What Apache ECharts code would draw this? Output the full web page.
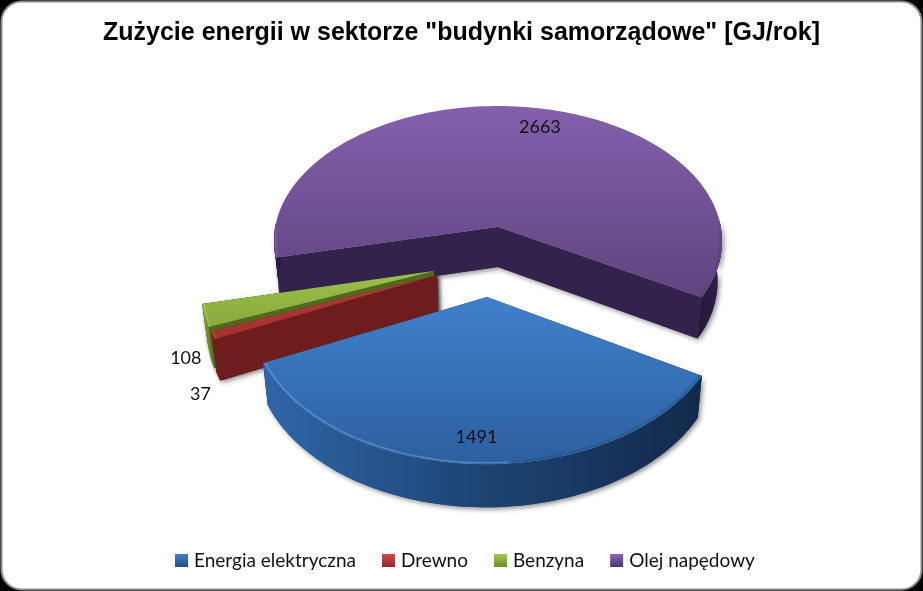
<!DOCTYPE html>
<html>
<head>
<meta charset="utf-8">
<style>html,body{margin:0;padding:0;background:#000}#c{width:923px;height:591px}</style>
<script src="https://cdn.jsdelivr.net/npm/echarts@6/dist/echarts.min.js"></script>
</head>
<body>
<div id="c"></div>
<script>
const titleText = 'Zużycie energii w sektorze "budynki samorządowe" [GJ/rok]';
const categories = ['Energia elektryczna', 'Drewno', 'Benzyna', 'Olej napędowy'];
const values = [1491, 37, 108, 2663];

// pie projection settings
const START_ANGLE = 30, CX = 498, CY = 227, RX = 222.8, RY = 133.7, K = 0.105, DEPTH = 40, FOOT = 0.98;
const explode = [[-0.047, 0.496], [-0.264, 0.346], [-0.278, 0.318], [0, 0]];
const labelPlace = [[0.85, 0], [1.187, -15.8], [1.142, -12], [0.845, 5.5]];
const looks = [
  {top: ['#4080cc', '#2c609f'], rimL: '#7fb0e6', rimR: '#1f4a80', wall: ['#2f66a8', '#1d4473', '#12294a'], face: '#1d4473', legend: ['#3f7fc9', '#254f85']},
  {top: ['#b03a38', '#a33130'], rimL: '#c65a58', rimR: '#8a2826', wall: ['#7a2220', '#6e1d1d', '#6e1d1d'], face: '#6e1d1d', legend: ['#d04a47', '#8f2a28']},
  {top: ['#9cc04a', '#8aaa3c'], rimL: '#b3d268', rimR: '#7a9a34', wall: ['#8aa83c', '#6f8c2e', '#5a7424'], face: '#50691f', legend: ['#a5c853', '#6f8c2e']},
  {top: ['#8560ad', '#5f4480'], rimL: '#8f6fb5', rimR: '#54396f', wall: ['#33234c', '#2a1c41', '#241838'], face: '#33234c', legend: ['#8a66b3', '#4b3468']}
];
const total = values.reduce((a, b) => a + b, 0);

function spans() {
  let a = START_ANGLE;
  return values.map(v => { const s = a; a += v / total * 360; return [s, a]; });
}
function proj(u, v, drop) {
  const d = 1 - K * v, x = CX + RX * u / d, y = CY + RY * v / d;
  return drop ? [CX + (x - CX) * FOOT, y + DEPTH * (1 + 0.05 * v)] : [x, y];
}
function pt(i, r, deg, drop) {
  const t = deg * Math.PI / 180, e = explode[i];
  return proj(e[0] + r * Math.cos(t), e[1] + r * Math.sin(t), drop);
}
function arcAngles(a, b) {
  const out = [], n = Math.max(2, Math.ceil((b - a) / 1.5));
  for (let j = 0; j <= n; j++) out.push(a + (b - a) * j / n);
  return out;
}
const lin = (x, y, x2, y2, stops) => ({type: 'linear', x, y, x2, y2,
  colorStops: stops.map((c, k) => ({offset: k / (stops.length - 1), color: c}))});
const shadow = {shadowBlur: 5, shadowColor: 'rgba(0,0,0,0.45)', shadowOffsetX: 2, shadowOffsetY: 2};
const rad = d => d * Math.PI / 180;

function renderSlice(i, value) {
  const [a, b] = spans()[i], look = looks[i], kids = [];
  const angles = arcAngles(a, b);
  const sides = [];   // {points, fill, wall}
  [a, b].forEach(deg => {
    sides.push({points: [pt(i, 0, deg, false), pt(i, 1, deg, false), pt(i, 1, deg, true), pt(i, 0, deg, true)], fill: look.face, wall: false});
  });
  let run = [];
  const flush = () => {
    if (run.length > 1) {
      const pts = run.map(d => pt(i, 1, d, false)).concat(run.slice().reverse().map(d => pt(i, 1, d, true)));
      const right = Math.cos(rad(run[0])) > 0 && Math.cos(rad(run[run.length - 1])) > 0;
      sides.push({points: pts, fill: lin(0, 0, 1, 0, right ? look.wall.slice().reverse() : look.wall), wall: true});
    }
    run = [];
  };
  angles.forEach(d => { if (Math.sin(rad(d)) > -0.06) run.push(d); else flush(); });
  flush();
  // first pass casts the soft shadow, second pass paints the clean sides over it
  sides.forEach(s => {
    if (i !== 0 || s.wall) kids.push({type: 'polygon', z2: 1, shape: {points: s.points}, style: Object.assign({fill: s.fill}, shadow)});
  });
  sides.forEach(s => kids.push({type: 'polygon', z2: s.wall ? 3 : 2, shape: {points: s.points}, style: {fill: s.fill}}));
  // top face
  const topPts = [pt(i, 0, a, false)].concat(angles.map(d => pt(i, 1, d, false)));
  kids.push({type: 'polygon', z2: 4, shape: {points: topPts}, style: {fill: lin(0, 0, 0, 1, look.top)}});
  // bevel along the front outer edge: lit on the left, shaded on the right
  const front = angles.filter(d => Math.sin(rad(d)) > 0);
  const rimLeft = front.filter(d => Math.cos(rad(d)) <= 0.1), rimRight = front.filter(d => Math.cos(rad(d)) > 0.1);
  [[rimLeft, look.rimL, 0.45], [rimRight, look.rimR, 0.5]].forEach(([set, color, op]) => {
    if (set.length > 1) kids.push({type: 'polyline', z2: 5, shape: {points: set.map(d => pt(i, 0.992, d, false))},
      style: {fill: null, stroke: color, lineWidth: 1.6, opacity: op}});
  });
  // value label
  const place = labelPlace[i], p = pt(i, place[0], (a + b) / 2 + place[1], false);
  kids.push({type: 'text', z2: 9, style: {text: String(value), x: p[0], y: p[1] + 1, align: 'center',
    verticalAlign: 'middle', font: '18px Lato, "Open Sans", sans-serif', fill: '#111'}});
  return {type: 'group', children: kids};
}

const drawOrder = [3, 2, 1, 0];
const chart = echarts.init(document.getElementById('c'), null, {renderer: 'canvas'});
chart.setOption({
  animation: false,
  backgroundColor: '#000',
  graphic: {elements: [{type: 'rect', z: -10, silent: true,
    shape: {x: 1.5, y: 1.5, width: 920, height: 588, r: 20},
    style: {fill: '#fff', stroke: '#8a8a8a', lineWidth: 2}}]},
  title: {text: titleText, left: 'center', top: 16,
    textStyle: {fontFamily: '"Liberation Sans", Arial, sans-serif', fontWeight: 'bold', fontSize: 25, color: '#000'}},
  legend: {left: 170, top: 546, itemWidth: 13, itemHeight: 13, itemGap: 26, icon: 'rect',
    textStyle: {fontFamily: 'Lato, "Open Sans", sans-serif', fontSize: 19, color: '#111', padding: [0, 0, 0, 1]},
    data: categories.map((n, i) => ({name: n,
      itemStyle: {color: lin(0, 0, 0, 1, looks[i].legend)}}))},
  series: drawOrder.map(i => ({
    type: 'custom', name: categories[i], coordinateSystem: 'none', silent: true,
    itemStyle: {color: looks[i].top[0]},
    data: [[values[i]]],
    renderItem: (params, api) => renderSlice(i, api.value(0))
  }))
});
</script>
</body>
</html>
